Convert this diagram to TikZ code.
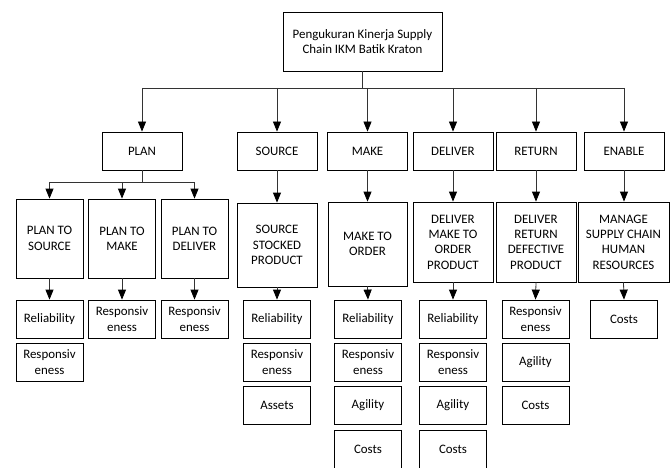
\documentclass[tikz,border=0pt]{standalone}
\usepackage{fontspec}
\setmainfont{Carlito}
\usetikzlibrary{arrows.meta}
\begin{document}
\begin{tikzpicture}[x=1pt,y=-1pt,
  box/.style={draw=black, line width=0.8pt, align=center, inner sep=1pt, font=\fontsize{12.9}{15.3}\selectfont},
  lvone/.style={box, minimum width=80pt, minimum height=38pt},
  leaf/.style={box, minimum width=67pt, minimum height=38pt},
  conn/.style={line width=0.8pt, draw=black!80},
  arr/.style={conn, -{Triangle[width=8pt,length=10pt,color=black]}}]
\useasboundingbox (0,0) rectangle (672,468);
\clip (0,0) rectangle (672,468);
\coordinate (bus) at (0,88);
\coordinate (pbus) at (0,182);
% root
\node[box, minimum width=159pt, minimum height=59pt] (top) at (362.5,41.5) {Pengukuran Kinerja Supply\\Chain IKM Batik Kraton};
% level 1
\node[lvone] (plan) at (142,151) {PLAN};
\node[lvone] (source) at (277,151) {SOURCE};
\node[lvone] (make) at (367.5,151) {MAKE};
\node[lvone] (deliver) at (453,151) {DELIVER};
\node[lvone] (return) at (536,151) {RETURN};
\node[lvone] (enable) at (624,151) {ENABLE};
% level 2
\node[box, minimum width=67pt, minimum height=79pt] (pts) at (49.5,238.5) {PLAN TO\\SOURCE};
\node[box, minimum width=67pt, minimum height=79pt] (ptm) at (122,238.5) {PLAN TO\\MAKE};
\node[box, minimum width=67pt, minimum height=79pt] (ptd) at (194.5,238.5) {PLAN TO\\DELIVER};
\node[box, minimum width=80pt, minimum height=84pt] (ssp) at (277,245) {SOURCE\\STOCKED\\PRODUCT};
\node[box, minimum width=79pt, minimum height=84pt] (mto) at (367.5,244) {MAKE TO\\ORDER};
\node[box, minimum width=80pt, minimum height=80pt] (dmo) at (453,242) {DELIVER\\MAKE TO\\ORDER\\PRODUCT};
\node[box, minimum width=80pt, minimum height=80pt] (drd) at (536,242) {DELIVER\\RETURN\\DEFECTIVE\\PRODUCT};
\node[box, minimum width=91pt, minimum height=80pt] (msc) at (623.5,242) {MANAGE\\SUPPLY CHAIN\\HUMAN\\RESOURCES};
% leaves
\node[leaf] (pts1) at (49.5,319) {Reliability};
\node[leaf] (pts2) at (49.5,362) {Responsiv\\eness};
\node[leaf] (ptm1) at (122,319) {Responsiv\\eness};
\node[leaf] (ptd1) at (194.5,319) {Responsiv\\eness};
\node[leaf] (ssp1) at (277,319) {Reliability};
\node[leaf] (ssp2) at (277,362) {Responsiv\\eness};
\node[leaf] (ssp3) at (277,405) {Assets};
\node[leaf] (mto1) at (368,319) {Reliability};
\node[leaf] (mto2) at (368,362) {Responsiv\\eness};
\node[leaf] (mto3) at (368,405) {Agility};
\node[leaf] (mto4) at (368,449) {Costs};
\node[leaf] (dmo1) at (453,319) {Reliability};
\node[leaf] (dmo2) at (453,362) {Responsiv\\eness};
\node[leaf] (dmo3) at (453,405) {Agility};
\node[leaf] (dmo4) at (453,449) {Costs};
\node[leaf] (drd1) at (535.5,319) {Responsiv\\eness};
\node[leaf] (drd2) at (535.5,362) {Agility};
\node[leaf] (drd3) at (535.5,405) {Costs};
\node[leaf] (msc1) at (624,319) {Costs};
% root connectors
\draw[conn] (top.south) -- (top.south |- bus);
\draw[conn] (plan.north |- bus) -- (enable.north |- bus);
\foreach \n in {plan,source,make,deliver,return,enable}
  \draw[arr] (\n.north |- bus) -- (\n.north);
% plan connectors
\draw[conn] (plan.south) -- (plan.south |- pbus);
\draw[conn] (pts.north |- pbus) -- (ptd.north |- pbus);
\foreach \n in {pts,ptm,ptd}
  \draw[arr] (\n.north |- pbus) -- (\n.north);
% level 1 to level 2
\draw[arr] (source.south) -- (ssp.north);
\draw[arr] (make.south) -- (mto.north);
\draw[arr] (deliver.south) -- (dmo.north);
\draw[arr] (return.south) -- (drd.north);
\draw[arr] (enable.south) -- (enable.south |- msc.north);
% level 2 to leaves
\foreach \n in {pts,ptm,ptd,ssp,mto,dmo,drd,msc}
  \draw[arr] (\n.south) -- (\n1.north);
\end{tikzpicture}
\end{document}
